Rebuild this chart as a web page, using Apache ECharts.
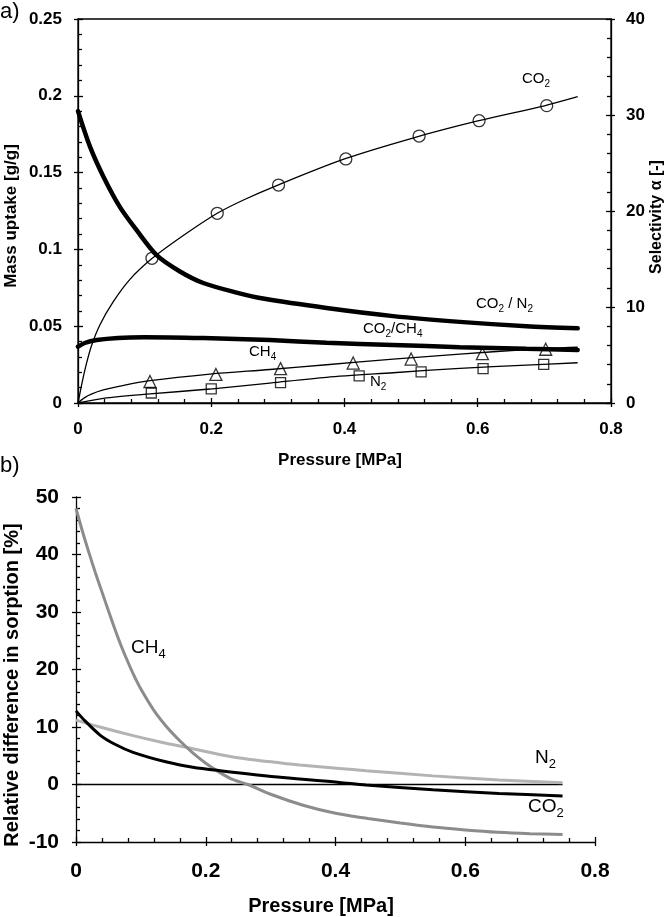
<!DOCTYPE html>
<html><head><meta charset="utf-8">
<script src="https://cdn.jsdelivr.net/npm/echarts@6/dist/echarts.min.js"></script>
<style>html,body{margin:0;padding:0;background:#fff}#c{width:667px;height:917px}</style>
</head><body><div id="c"></div>
<script>
// ---------- panel a) : mass uptake [g/g] vs pressure [MPa] ----------
const co2Points = [[0.111,0.0942],[0.209,0.1235],[0.301,0.1419],[0.402,0.1589],[0.512,0.1738],[0.602,0.1838],[0.7035,0.1936]];
const ch4Points = [[0.108,0.014],[0.207,0.0186],[0.304,0.0224],[0.413,0.026],[0.5,0.0286],[0.607,0.0321],[0.702,0.035]];
const n2Points  = [[0.11,0.0065],[0.2,0.0092],[0.304,0.0132],[0.422,0.0176],[0.515,0.0203],[0.608,0.0224],[0.699,0.0252]];
const co2Fit = [[0,0],[0.006,0.013],[0.012,0.0245],[0.02,0.037],[0.033,0.051],[0.053,0.066],[0.078,0.0805],[0.111,0.094],[0.158,0.109],[0.209,0.1235],[0.25,0.1325],[0.3,0.1419],[0.4,0.1589],[0.5,0.1722],[0.6,0.1836],[0.7,0.1935],[0.75,0.1994]];
const ch4Fit = [[0,0],[0.01,0.0035],[0.02,0.0058],[0.038,0.0085],[0.063,0.011],[0.108,0.0145],[0.198,0.0188],[0.288,0.0218],[0.373,0.0249],[0.473,0.0285],[0.573,0.0318],[0.673,0.0348],[0.75,0.0363]];
const n2Fit  = [[0,0],[0.038,0.003],[0.108,0.0059],[0.198,0.0091],[0.288,0.013],[0.373,0.0167],[0.473,0.0197],[0.573,0.0226],[0.673,0.0247],[0.75,0.0262]];
// selectivity alpha [-] (right axis)
const selCO2N2  = [[0,30.4],[0.018,26.7],[0.038,23.6],[0.063,20.4],[0.088,18.0],[0.118,15.4],[0.153,13.7],[0.188,12.5],[0.238,11.5],[0.28,10.85],[0.373,9.9],[0.473,9.05],[0.573,8.45],[0.673,8.0],[0.75,7.78]];
const selCO2CH4 = [[0,5.86],[0.01,6.25],[0.028,6.56],[0.06,6.78],[0.1,6.85],[0.188,6.76],[0.288,6.55],[0.373,6.28],[0.473,6.04],[0.573,5.82],[0.673,5.64],[0.75,5.52]];

// ---------- panel b) : relative difference in sorption [%] ----------
const relCH4 = [[0,48],[0.01,44],[0.02,40.3],[0.03,36.8],[0.04,33.5],[0.05,30.2],[0.06,27.0],[0.07,24.0],[0.08,21.3],[0.09,18.8],[0.1,16.6],[0.12,12.9],[0.14,10.0],[0.16,7.6],[0.18,5.5],[0.2,3.7],[0.22,2.2],[0.24,0.95],[0.265,0],[0.3,-1.7],[0.35,-3.6],[0.4,-5.0],[0.45,-5.9],[0.5,-6.7],[0.55,-7.4],[0.6,-7.9],[0.65,-8.3],[0.7,-8.55],[0.75,-8.7]];
const relN2  = [[0,11.2],[0.037,10],[0.088,8.5],[0.13,7.4],[0.173,6.4],[0.242,4.8],[0.319,3.7],[0.345,3.4],[0.406,2.8],[0.447,2.4],[0.55,1.5],[0.652,0.8],[0.75,0.3]];
const relCO2 = [[0,12.8],[0.011,11.4],[0.037,8.6],[0.06,7.0],[0.088,5.6],[0.14,3.9],[0.18,3.0],[0.222,2.4],[0.319,1.2],[0.406,0.35],[0.447,-0.1],[0.55,-0.9],[0.652,-1.55],[0.75,-2.0]];
const zeroLine = [[0,0],[0.75,0]];

const FONT = '"Liberation Sans", Arial, Helvetica, sans-serif';
const BLK = '#000';
const chart = echarts.init(document.getElementById('c'), null, {renderer:'canvas'});

function mainAxis(o){
  return Object.assign({
    type:'value', splitLine:{show:false},
    axisLine:{show:true, onZero:false, lineStyle:{color:BLK, width:1.3}},
    axisTick:{show:true, inside:true, length:5, lineStyle:{color:BLK, width:1.3}},
    minorTick:{show:true, splitNumber:5, length:4, lineStyle:{color:BLK, width:1.3}},
    axisLabel:{color:BLK, fontFamily:FONT, fontWeight:'bold', fontSize:17, margin:16}
  }, o);
}
function tickAxis(o){
  return Object.assign({
    type:'value', splitLine:{show:false},
    axisLine:{show:false, onZero:false},
    axisTick:{show:true, inside:false, length:4, lineStyle:{color:BLK, width:1.3}},
    axisLabel:{show:false}
  }, o);
}
function lbl(x, y, text, size){
  const sub = Math.round(size*0.68);
  return {
    type:'text', x:x, y:y, z:100,
    style:{text:text, fill:BLK, fontFamily:FONT, fontSize:size, align:'left', verticalAlign:'top',
      rich:{n:{fontFamily:FONT, fontSize:size, fill:BLK, verticalAlign:'bottom', padding:[0,0,Math.round(size*0.22),0]},
            s:{fontFamily:FONT, fontSize:sub, fill:BLK, verticalAlign:'bottom'}}}
  };
}
function title(x, y, text, size, rot){
  return {type:'text', x:x, y:y, rotation:rot||0, z:100,
    style:{text:text, fill:BLK, fontFamily:FONT, fontWeight:'bold', fontSize:size, align:'center', verticalAlign:'middle'}};
}

const thin = {color:BLK, width:1.3};
const SM = 0.3;
const option = {
  animation:false,
  backgroundColor:'#fff',
  grid:[
    {left:78, right:56, top:19, bottom:514, show:true, borderColor:BLK, borderWidth:1.3, backgroundColor:'transparent'},
    {left:76, right:72, top:497, bottom:75}
  ],
  xAxis:[
    mainAxis({gridIndex:0, min:0, max:0.8, interval:0.2, position:'bottom', axisLabel:{color:BLK, fontFamily:FONT, fontWeight:'bold', fontSize:17, margin:18}}),
    tickAxis({gridIndex:0, min:0, max:0.8, interval:0.2, position:'bottom'}),
    mainAxis({gridIndex:1, min:0, max:0.8, interval:0.2, position:'bottom', axisLabel:{color:BLK, fontFamily:FONT, fontWeight:'bold', fontSize:21, margin:19}}),
    tickAxis({gridIndex:1, min:0, max:0.8, interval:0.2, position:'bottom'})
  ],
  yAxis:[
    mainAxis({gridIndex:0, min:0, max:0.25, interval:0.05, position:'left'}),
    mainAxis({gridIndex:0, min:0, max:40, interval:10, position:'right', axisLabel:{color:BLK, fontFamily:FONT, fontWeight:'bold', fontSize:17, margin:15}}),
    tickAxis({gridIndex:0, min:0, max:0.25, interval:0.05, position:'left'}),
    tickAxis({gridIndex:0, min:0, max:40, interval:10, position:'right'}),
    mainAxis({gridIndex:1, min:-10, max:50, interval:10, position:'left', axisLabel:{color:BLK, fontFamily:FONT, fontWeight:'bold', fontSize:21, margin:17}}),
    tickAxis({gridIndex:1, min:-10, max:50, interval:10, position:'left'})
  ],
  series:[
    {name:'CO2 fit', type:'line', xAxisIndex:0, yAxisIndex:0, data:co2Fit, showSymbol:false, smooth:SM, lineStyle:thin, z:3},
    {name:'CH4 fit', type:'line', xAxisIndex:0, yAxisIndex:0, data:ch4Fit, showSymbol:false, smooth:SM, lineStyle:thin, z:3},
    {name:'N2 fit',  type:'line', xAxisIndex:0, yAxisIndex:0, data:n2Fit,  showSymbol:false, smooth:SM, lineStyle:thin, z:3},
    {name:'CO2/N2',  type:'line', xAxisIndex:0, yAxisIndex:1, data:selCO2N2,  showSymbol:false, smooth:SM, lineStyle:{color:BLK, width:4.5, cap:'round'}, z:4},
    {name:'CO2/CH4', type:'line', xAxisIndex:0, yAxisIndex:1, data:selCO2CH4, showSymbol:false, smooth:SM, lineStyle:{color:BLK, width:4.5, cap:'round'}, z:4},
    {name:'CO2', type:'scatter', xAxisIndex:0, yAxisIndex:0, data:co2Points, symbol:'circle', symbolSize:12, itemStyle:{color:'rgba(255,255,255,0)', borderColor:BLK, borderWidth:1.3}, z:5},
    {name:'CH4', type:'scatter', xAxisIndex:0, yAxisIndex:0, data:ch4Points, symbol:'triangle', symbolSize:12, itemStyle:{color:'rgba(255,255,255,0)', borderColor:BLK, borderWidth:1.3}, z:5},
    {name:'N2',  type:'scatter', xAxisIndex:0, yAxisIndex:0, data:n2Points, symbol:'rect', symbolSize:10, itemStyle:{color:'rgba(255,255,255,0)', borderColor:BLK, borderWidth:1.3}, z:5},
    {name:'zero', type:'line', xAxisIndex:2, yAxisIndex:4, data:zeroLine, showSymbol:false, lineStyle:{color:BLK, width:1.3}, z:2},
    {name:'N2 rel',  type:'line', xAxisIndex:2, yAxisIndex:4, data:relN2,  showSymbol:false, smooth:SM, lineStyle:{color:'#b3b3b3', width:3}, z:3},
    {name:'CH4 rel', type:'line', xAxisIndex:2, yAxisIndex:4, data:relCH4, showSymbol:false, smooth:SM, lineStyle:{color:'#8c8c8c', width:3}, z:4},
    {name:'CO2 rel', type:'line', xAxisIndex:2, yAxisIndex:4, data:relCO2, showSymbol:false, smooth:SM, lineStyle:{color:BLK, width:3}, z:5}
  ],
  graphic:[
    {type:'text', x:0, y:1, z:100, style:{text:'a)', fill:BLK, fontFamily:FONT, fontSize:22, align:'left', verticalAlign:'top'}},
    {type:'text', x:0, y:455, z:100, style:{text:'b)', fill:BLK, fontFamily:FONT, fontSize:22, align:'left', verticalAlign:'top'}},
    title(11, 216, 'Mass uptake [g/g]', 17, Math.PI/2),
    title(657, 217, 'Selectivity α [-]', 16, Math.PI/2),
    title(340, 460, 'Pressure [MPa]', 17, 0),
    title(12, 685, 'Relative difference in sorption [%]', 20, Math.PI/2),
    title(321, 906, 'Pressure [MPa]', 20, 0),
    lbl(522, 71, '{n|CO}{s|2}', 15),
    lbl(476, 296, '{n|CO}{s|2}{n| / N}{s|2}', 15),
    lbl(363, 321, '{n|CO}{s|2}{n|/CH}{s|4}', 15),
    lbl(249, 344, '{n|CH}{s|4}', 15),
    lbl(370, 374, '{n|N}{s|2}', 15),
    lbl(131, 638, '{n|CH}{s|4}', 19),
    lbl(535, 748, '{n|N}{s|2}', 19),
    lbl(528, 797, '{n|CO}{s|2}', 19)
  ]
};
chart.setOption(option);
</script></body></html>
